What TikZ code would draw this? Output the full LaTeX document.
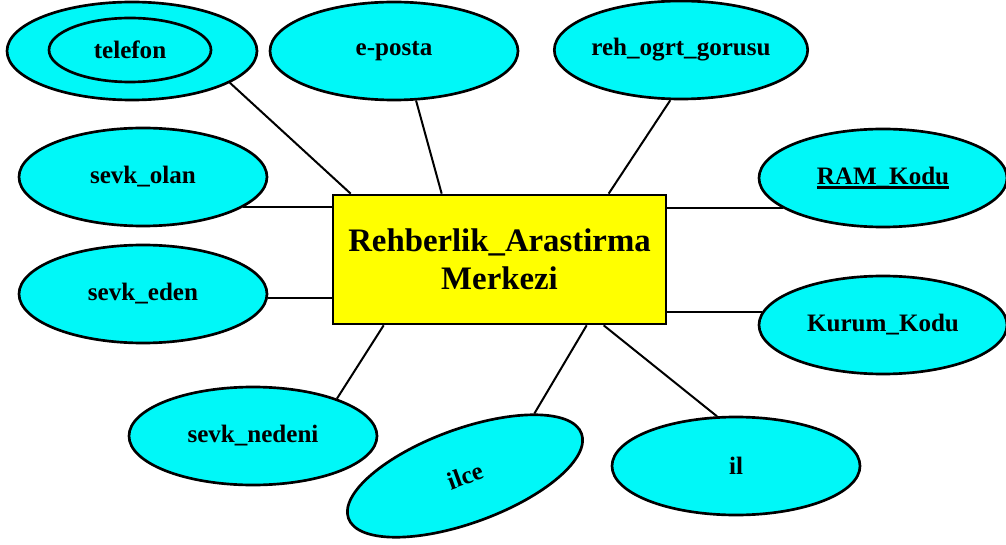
\documentclass[tikz,border=0pt]{standalone}
\usepackage{fontspec}
\setmainfont{Liberation Serif}
\usetikzlibrary{shapes.geometric,calc}
\definecolor{attrcyan}{RGB}{0,248,248}
\definecolor{entyellow}{RGB}{255,255,0}
\newcommand{\keyul}[1]{\setbox0\hbox{#1}\rlap{\rule[-0.15em]{\wd0}{0.1em}}\box0}
\begin{document}
\begin{tikzpicture}[x=0.75pt,y=-0.75pt,
  attrib/.style={ellipse,draw=black,line width=2pt,fill=attrcyan,
    minimum width=186pt,minimum height=73.5pt,inner sep=0pt,
    font=\fontsize{18.8}{22}\selectfont\bfseries},
  entity/.style={rectangle,draw=black,line width=2pt,fill=entyellow,
    minimum width=249.75pt,minimum height=96.75pt,inner sep=0pt,align=center,
    font=\fontsize{24.6}{28.5}\selectfont\bfseries},
  link/.style={line width=1.5pt}]
\useasboundingbox (0,0) rectangle (1006,545);
\fill[white] (0,0) rectangle (1006,545);

\node[entity] (rect) at (499.5,259.5) {Rehberlik\_Arastirma\\Merkezi};

\node[attrib,minimum width=187.5pt] (telefon) at (132,51) {};
\node[attrib,minimum width=121.5pt,minimum height=48pt] (telefonin) at (130,50) {telefon};
\node[attrib] (eposta) at (394,51) {e-posta};
\node[attrib] (reh) at (681,50) {reh\_ogrt\_gorusu};
\node[attrib] (sevkolan) at (143,177) {sevk\_olan};
\node[attrib] (ram) at (883,178) {\keyul{RAM\_Kodu}};
\node[attrib] (sevkeden) at (143,294) {sevk\_eden};
\node[attrib] (kurum) at (883,325) {Kurum\_Kodu};
\node[attrib] (nedeni) at (253,436) {sevk\_nedeni};
\node[attrib,rotate=20,minimum height=70.5pt] (ilce) at (465,476) {ilce};
\node[attrib] (il) at (736,466) {il};

\draw[link] ($(rect.north west)+(19,0)$) -- (telefon.-18.4);
\draw[link] ($(rect.north west)+(110,0)$) -- (eposta.-66.8);
\draw[link] ($(rect.north west)+(277,0)$) -- (reh.-102.4);
\draw[link] (sevkolan.-17) -- (sevkolan.-17 -| rect.west);
\draw[link] (sevkeden.-2) -- (sevkeden.-2 -| rect.west);
\draw[link] (ram.-163.8) -- (ram.-163.8 -| rect.east);
\draw[link] (kurum.174.3) -- (kurum.174.3 -| rect.east);
\draw[link] ($(rect.south west)+(52,0)$) -- (nedeni.24.3);
\draw[link] ($(rect.south west)+(255,0)$) -- (ilce.22);
\draw[link] ($(rect.south west)+(272,0)$) -- (il.111.6);
\end{tikzpicture}
\end{document}
